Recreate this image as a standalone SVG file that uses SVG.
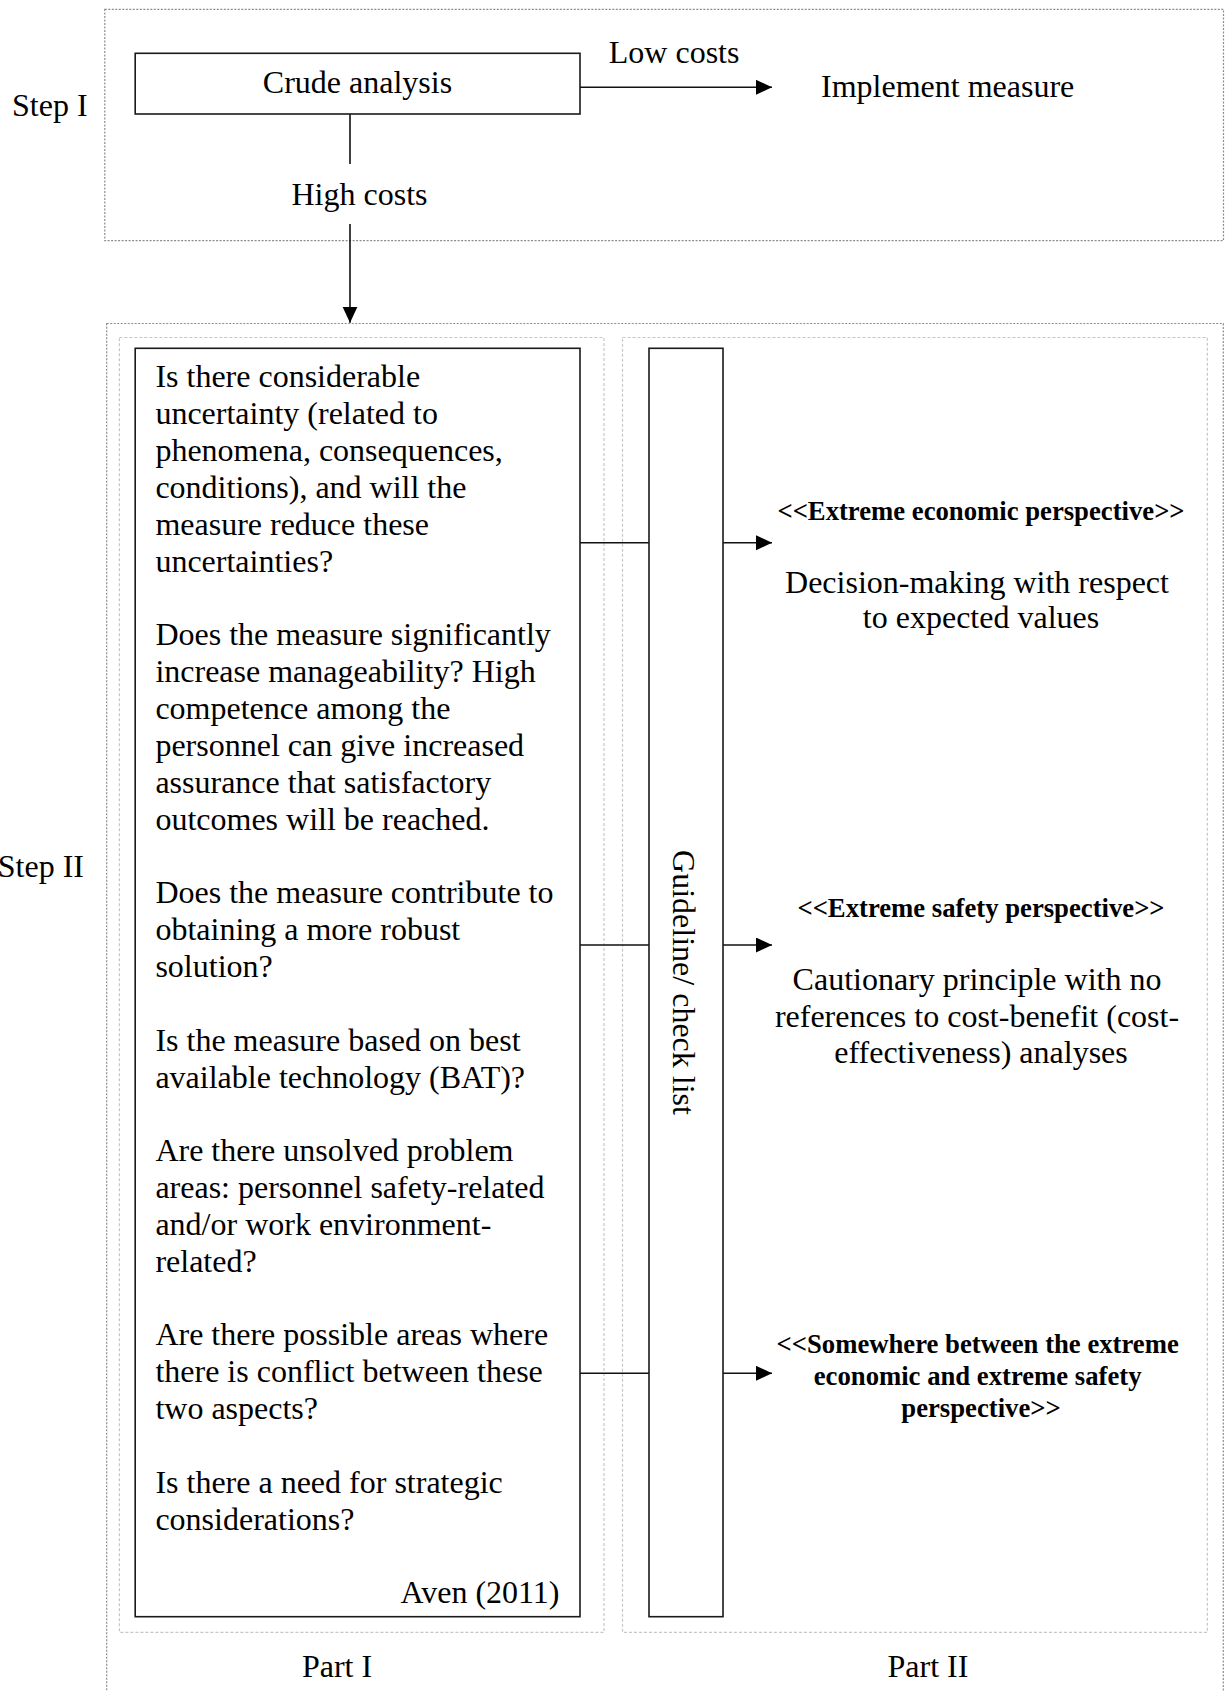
<svg xmlns="http://www.w3.org/2000/svg" width="1230" height="1691" viewBox="0 0 1230 1691">
  <style>
    text { font-family: "Liberation Serif", "Times New Roman", serif; fill: #000; }
    .t { font-size: 32px; }
    .b { font-size: 26.7px; font-weight: bold; }
    .mid { text-anchor: middle; }
    .frame { fill: none; stroke: #8c8c8c; stroke-width: 1.2; stroke-dasharray: 2 1.5; }
    .panel { fill: none; stroke: #c6c6c6; stroke-width: 1.2; stroke-dasharray: 3 2; }
    .box { fill: #fff; stroke: #1a1a1a; stroke-width: 1.6; }
    .link { fill: none; stroke: #111; stroke-width: 1.6; }
  </style>
  <defs>
    <marker id="arrow" markerUnits="userSpaceOnUse" markerWidth="17" markerHeight="16" refX="16" refY="7.5" orient="auto">
      <path d="M0,0 L16,7.5 L0,15 Z" fill="#000"/>
    </marker>
  </defs>
  <rect width="1230" height="1691" fill="#fff"/>

  <!-- Step frames -->
  <g id="step1-frame">
    <rect class="frame" x="104.8" y="9.3" width="1118.7" height="231.4"/>
    <text class="t" x="12" y="116">Step I</text>
  </g>
  <g id="step2-frame">
    <rect class="frame" x="106.7" y="323.5" width="1116.6" height="1420"/>
    <text class="t" x="84" y="877.3" text-anchor="end">Step II</text>
  </g>

  <!-- Part panels -->
  <g id="part1">
    <rect class="panel" x="119.4" y="337.5" width="484.6" height="1294.8"/>
    <text class="t mid" x="337" y="1676.7">Part I</text>
  </g>
  <g id="part2">
    <rect class="panel" x="622.5" y="337.5" width="584.8" height="1294.8"/>
    <text class="t mid" x="928" y="1676.7">Part II</text>
  </g>

  <!-- Connectors -->
  <g id="connectors">
    <line class="link" x1="580" y1="87.3" x2="772" y2="87.3" marker-end="url(#arrow)"/>
    <line class="link" x1="350" y1="114" x2="350" y2="164"/>
    <line class="link" x1="350" y1="224" x2="350" y2="322.7" marker-end="url(#arrow)"/>
    <line class="link" x1="580" y1="542.7" x2="649" y2="542.7"/>
    <line class="link" x1="723" y1="542.7" x2="772" y2="542.7" marker-end="url(#arrow)"/>
    <line class="link" x1="580" y1="945" x2="649" y2="945"/>
    <line class="link" x1="723" y1="945" x2="772" y2="945" marker-end="url(#arrow)"/>
    <line class="link" x1="580" y1="1373.3" x2="649" y2="1373.3"/>
    <line class="link" x1="723" y1="1373.3" x2="772" y2="1373.3" marker-end="url(#arrow)"/>
  </g>

  <!-- Step I nodes -->
  <g id="crude-analysis">
    <rect class="box" x="135.2" y="53.3" width="444.8" height="60.7"/>
    <text class="t mid" x="357.5" y="93.3">Crude analysis</text>
  </g>
  <g id="low-costs-label">
    <text class="t" x="608.8" y="62.7">Low costs</text>
  </g>
  <g id="implement-measure">
    <text class="t" x="821" y="96.7">Implement measure</text>
  </g>
  <g id="high-costs-label">
    <text class="t mid" x="359.5" y="205">High costs</text>
  </g>

  <!-- Part I: questions -->
  <g id="questions">
    <rect class="box" x="135.2" y="348.3" width="444.8" height="1268.4"/>
    <text class="t" x="155.4">
      <tspan x="155.4" y="387.3">Is there considerable</tspan>
      <tspan x="155.4" y="424.2">uncertainty (related to</tspan>
      <tspan x="155.4" y="461">phenomena, consequences,</tspan>
      <tspan x="155.4" y="497.9">conditions), and will the</tspan>
      <tspan x="155.4" y="534.7">measure reduce these</tspan>
      <tspan x="155.4" y="571.6">uncertainties?</tspan>
      <tspan x="155.4" y="645.3">Does the measure significantly</tspan>
      <tspan x="155.4" y="682.2">increase manageability? High</tspan>
      <tspan x="155.4" y="719">competence among the</tspan>
      <tspan x="155.4" y="755.9">personnel can give increased</tspan>
      <tspan x="155.4" y="792.7">assurance that satisfactory</tspan>
      <tspan x="155.4" y="829.5">outcomes will be reached.</tspan>
      <tspan x="155.4" y="903.2">Does the measure contribute to</tspan>
      <tspan x="155.4" y="940.1">obtaining a more robust</tspan>
      <tspan x="155.4" y="976.9">solution?</tspan>
      <tspan x="155.4" y="1050.6">Is the measure based on best</tspan>
      <tspan x="155.4" y="1087.5">available technology (BAT)?</tspan>
      <tspan x="155.4" y="1161.2">Are there unsolved problem</tspan>
      <tspan x="155.4" y="1198">areas: personnel safety-related</tspan>
      <tspan x="155.4" y="1234.9">and/or work environment-</tspan>
      <tspan x="155.4" y="1271.7">related?</tspan>
      <tspan x="155.4" y="1345.4">Are there possible areas where</tspan>
      <tspan x="155.4" y="1382.3">there is conflict between these</tspan>
      <tspan x="155.4" y="1419.1">two aspects?</tspan>
      <tspan x="155.4" y="1492.8">Is there a need for strategic</tspan>
      <tspan x="155.4" y="1529.6">considerations?</tspan>
    </text>
    <text class="t" x="559.5" y="1602.7" text-anchor="end">Aven (2011)</text>
  </g>

  <!-- Part II: guideline bar and outcomes -->
  <g id="guideline">
    <rect class="box" x="649" y="348.3" width="74" height="1268.4"/>
    <text class="t mid" transform="translate(673,982.5) rotate(90)">Guideline/ check list</text>
  </g>
  <g id="economic-perspective">
    <text class="b mid" x="981" y="520">&lt;&lt;Extreme economic perspective&gt;&gt;</text>
    <text class="t mid">
      <tspan x="981" y="592.7">Decision-making with respect</tspan>
      <tspan x="981" y="628.3">to expected values</tspan>
    </text>
  </g>
  <g id="safety-perspective">
    <text class="b mid" x="981" y="917.3">&lt;&lt;Extreme safety perspective&gt;&gt;</text>
    <text class="t mid">
      <tspan x="981" y="990">Cautionary principle with no</tspan>
      <tspan x="981" y="1026.7">references to cost-benefit (cost-</tspan>
      <tspan x="981" y="1063.3">effectiveness) analyses</tspan>
    </text>
  </g>
  <g id="intermediate-perspective">
    <text class="b mid">
      <tspan x="981" y="1353.3">&lt;&lt;Somewhere between the extreme</tspan>
      <tspan x="981" y="1385">economic and extreme safety</tspan>
      <tspan x="981" y="1416.5">perspective&gt;&gt;</tspan>
    </text>
  </g>
</svg>
